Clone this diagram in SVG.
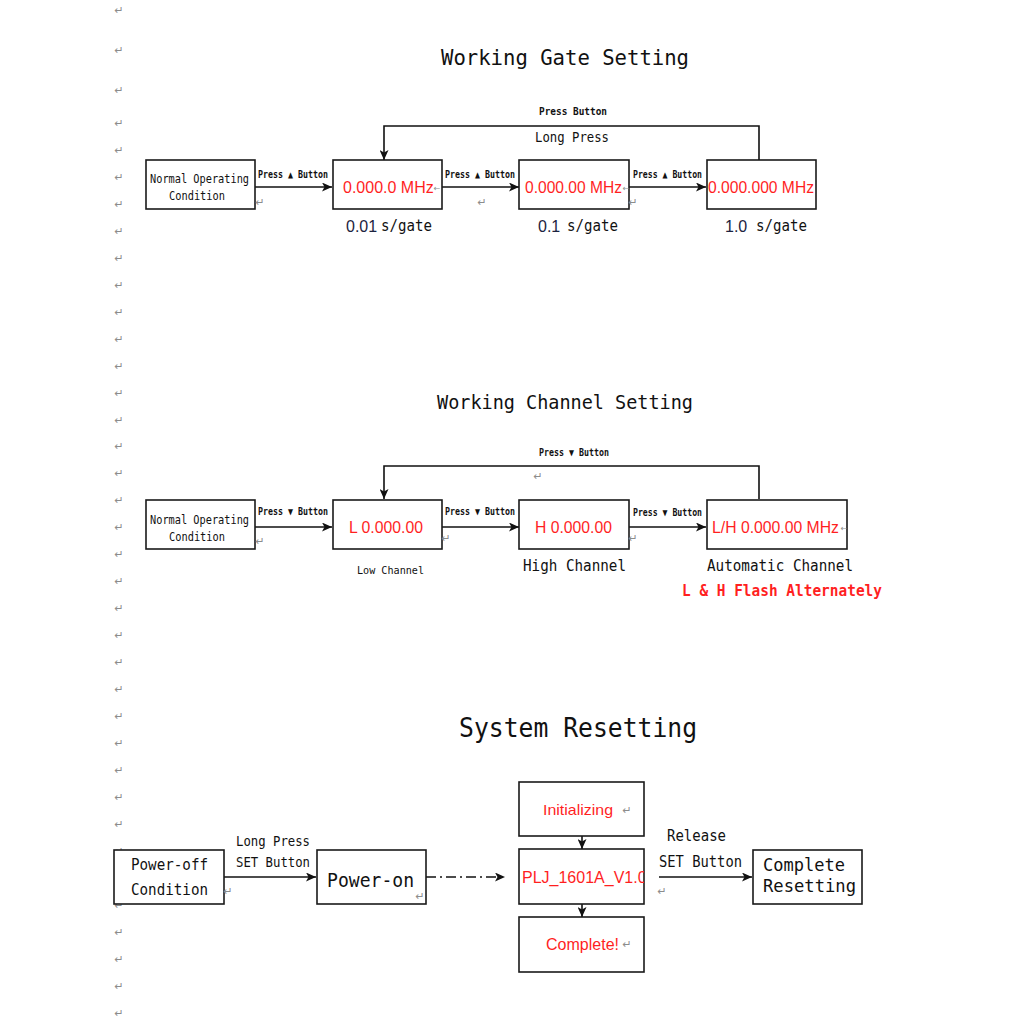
<svg xmlns="http://www.w3.org/2000/svg" width="1024" height="1024" viewBox="0 0 1024 1024">
<style>
.bg{fill:#fff}
.box{fill:#fff;stroke:#1a1a1a;stroke-width:1.6}
.conn{stroke:#111;stroke-width:1.6;fill:none}
.mono{font-family:"DejaVu Sans Mono","Liberation Mono",monospace;fill:#111}
.title{font-family:"DejaVu Sans Mono","Liberation Mono",monospace;fill:#111;text-anchor:middle}
.lbl{font-family:"DejaVu Sans Mono","Liberation Mono",monospace;fill:#111;font-size:10.5px;font-weight:bold}
.red{font-family:"Liberation Sans",Arial,sans-serif;fill:#ff1f1f;font-size:16px}
.num{font-family:"Liberation Sans",Arial,sans-serif;fill:#1c2340;font-size:16px}
.ret{font-family:"DejaVu Sans",sans-serif;fill:#8c8c8c;font-size:11px;text-anchor:middle}
</style>
<defs>
<marker id="ah" markerUnits="userSpaceOnUse" markerWidth="11" markerHeight="9" refX="10" refY="4.5" orient="auto">
<path d="M0,0 L10,4.5 L0,9 L2.5,4.5 Z" fill="#111"/>
</marker>
<clipPath id="clipPLJ"><rect x="519" y="849" width="125" height="55"/></clipPath>
</defs>
<rect class="bg" x="0" y="0" width="1024" height="1024"/>

<g id="margin-marks">
<text class="ret" x="119" y="14">↵</text>
<text class="ret" x="119" y="54">↵</text>
<text class="ret" x="119" y="94">↵</text>
<text class="ret" x="119" y="127">↵</text>
<text class="ret" x="119" y="154">↵</text>
<text class="ret" x="119" y="181">↵</text>
<text class="ret" x="119" y="208">↵</text>
<text class="ret" x="119" y="235">↵</text>
<text class="ret" x="119" y="262">↵</text>
<text class="ret" x="119" y="289">↵</text>
<text class="ret" x="119" y="316">↵</text>
<text class="ret" x="119" y="343">↵</text>
<text class="ret" x="119" y="370">↵</text>
<text class="ret" x="119" y="397">↵</text>
<text class="ret" x="119" y="424">↵</text>
<text class="ret" x="119" y="450">↵</text>
<text class="ret" x="119" y="477">↵</text>
<text class="ret" x="119" y="504">↵</text>
<text class="ret" x="119" y="531">↵</text>
<text class="ret" x="119" y="558">↵</text>
<text class="ret" x="119" y="585">↵</text>
<text class="ret" x="119" y="612">↵</text>
<text class="ret" x="119" y="639">↵</text>
<text class="ret" x="119" y="666">↵</text>
<text class="ret" x="119" y="693">↵</text>
<text class="ret" x="119" y="720">↵</text>
<text class="ret" x="119" y="747">↵</text>
<text class="ret" x="119" y="774">↵</text>
<text class="ret" x="119" y="801">↵</text>
<text class="ret" x="119" y="828">↵</text>
<text class="ret" x="119" y="855">↵</text>
<text class="ret" x="119" y="882">↵</text>
<text class="ret" x="119" y="909">↵</text>
<text class="ret" x="119" y="936">↵</text>
<text class="ret" x="119" y="963">↵</text>
<text class="ret" x="119" y="990">↵</text>
<text class="ret" x="119" y="1017">↵</text>
</g>

<g id="titles">
<text class="title" x="565" y="65" font-size="22" textLength="248" lengthAdjust="spacingAndGlyphs">Working Gate Setting</text>
<text class="title" x="565" y="409" font-size="20" textLength="256" lengthAdjust="spacingAndGlyphs">Working Channel Setting</text>
<text class="title" x="578" y="737" font-size="26" textLength="238" lengthAdjust="spacingAndGlyphs">System Resetting</text>
</g>

<g id="connectors">
<line class="conn" x1="255" y1="187" x2="332" y2="187" marker-end="url(#ah)"/>
<line class="conn" x1="442" y1="187" x2="519" y2="187" marker-end="url(#ah)"/>
<line class="conn" x1="629" y1="187" x2="706" y2="187" marker-end="url(#ah)"/>
<polyline class="conn" points="759,160 759,126 384,126 384,160" marker-end="url(#ah)"/>
<line class="conn" x1="255" y1="527" x2="332" y2="527" marker-end="url(#ah)"/>
<line class="conn" x1="442" y1="527" x2="519" y2="527" marker-end="url(#ah)"/>
<line class="conn" x1="629" y1="527" x2="706" y2="527" marker-end="url(#ah)"/>
<polyline class="conn" points="759,499 759,466 384,466 384,499" marker-end="url(#ah)"/>
<line class="conn" x1="224" y1="877" x2="316" y2="877" marker-end="url(#ah)"/>
<line class="conn" x1="426" y1="877" x2="505" y2="877" stroke-dasharray="10,4,2,4" marker-end="url(#ah)"/>
<line class="conn" x1="582" y1="836" x2="582" y2="849" marker-end="url(#ah)"/>
<line class="conn" x1="582" y1="904" x2="582" y2="917" marker-end="url(#ah)"/>
<line class="conn" x1="659" y1="877" x2="752" y2="877" marker-end="url(#ah)"/>
</g>

<g id="connector-labels">
<text class="lbl" x="258" y="178" textLength="70" lengthAdjust="spacingAndGlyphs">Press ▲ Button</text>
<text class="lbl" x="445" y="178" textLength="70" lengthAdjust="spacingAndGlyphs">Press ▲ Button</text>
<text class="lbl" x="633" y="178" textLength="69" lengthAdjust="spacingAndGlyphs">Press ▲ Button</text>
<text class="lbl" x="539" y="115" textLength="68" lengthAdjust="spacingAndGlyphs">Press Button</text>
<text class="mono" x="535" y="142" font-size="14" textLength="74" lengthAdjust="spacingAndGlyphs">Long Press</text>
<text class="lbl" x="258" y="515" textLength="70" lengthAdjust="spacingAndGlyphs">Press ▼ Button</text>
<text class="lbl" x="445" y="515" textLength="70" lengthAdjust="spacingAndGlyphs">Press ▼ Button</text>
<text class="lbl" x="633" y="516" textLength="69" lengthAdjust="spacingAndGlyphs">Press ▼ Button</text>
<text class="lbl" x="539" y="456" textLength="70" lengthAdjust="spacingAndGlyphs">Press ▼ Button</text>
<text class="mono" x="236" y="846" font-size="14" textLength="74" lengthAdjust="spacingAndGlyphs">Long Press</text>
<text class="mono" x="236" y="867" font-size="14" textLength="74" lengthAdjust="spacingAndGlyphs">SET Button</text>
<text class="mono" x="667" y="841" font-size="15" textLength="59" lengthAdjust="spacingAndGlyphs">Release</text>
<text class="mono" x="659" y="867" font-size="15" textLength="83" lengthAdjust="spacingAndGlyphs">SET Button</text>
</g>

<g id="g-normal">
<rect class="box" x="146" y="160" width="109" height="49"/>
<text class="mono" x="150" y="183" font-size="12" textLength="99" lengthAdjust="spacingAndGlyphs">Normal Operating</text>
<text class="mono" x="169" y="200" font-size="12" textLength="56" lengthAdjust="spacingAndGlyphs">Condition</text>
</g>
<g id="g-001">
<rect class="box" x="333" y="160" width="109" height="49"/>
<text class="red" x="343" y="193">0.000.0 MHz</text>
<text class="num" x="346" y="232">0.01</text>
<text class="mono" x="381" y="231" font-size="15" textLength="51" lengthAdjust="spacingAndGlyphs">s/gate</text>
</g>
<g id="g-01">
<rect class="box" x="519" y="160" width="110" height="49"/>
<text class="red" x="525" y="193" textLength="97" lengthAdjust="spacingAndGlyphs">0.000.00 MHz</text>
<text class="num" x="538" y="232">0.1</text>
<text class="mono" x="567" y="231" font-size="15" textLength="51" lengthAdjust="spacingAndGlyphs">s/gate</text>
</g>
<g id="g-10">
<rect class="box" x="707" y="160" width="109" height="49"/>
<text class="red" x="708" y="193" textLength="106" lengthAdjust="spacingAndGlyphs">0.000.000 MHz</text>
<text class="num" x="725" y="232">1.0</text>
<text class="mono" x="756" y="231" font-size="15" textLength="51" lengthAdjust="spacingAndGlyphs">s/gate</text>
</g>

<g id="c-normal">
<rect class="box" x="146" y="500" width="109" height="49"/>
<text class="mono" x="150" y="524" font-size="12" textLength="99" lengthAdjust="spacingAndGlyphs">Normal Operating</text>
<text class="mono" x="169" y="541" font-size="12" textLength="56" lengthAdjust="spacingAndGlyphs">Condition</text>
</g>
<g id="c-low">
<rect class="box" x="333" y="500" width="109" height="49"/>
<text class="red" x="349" y="533" textLength="74" lengthAdjust="spacingAndGlyphs">L 0.000.00</text>
<text class="mono" x="357" y="574" font-size="11" textLength="67" lengthAdjust="spacingAndGlyphs">Low Channel</text>
</g>
<g id="c-high">
<rect class="box" x="519" y="500" width="110" height="49"/>
<text class="red" x="535" y="533" textLength="77" lengthAdjust="spacingAndGlyphs">H 0.000.00</text>
<text class="mono" x="523" y="571" font-size="15" textLength="103" lengthAdjust="spacingAndGlyphs">High Channel</text>
</g>
<g id="c-auto">
<rect class="box" x="707" y="500" width="140" height="49"/>
<text class="red" x="712" y="533" textLength="127" lengthAdjust="spacingAndGlyphs">L/H 0.000.00 MHz</text>
<text class="mono" x="707" y="571" font-size="15" textLength="146" lengthAdjust="spacingAndGlyphs">Automatic Channel</text>
<text class="mono" x="682" y="596" font-size="15" font-weight="bold" style="fill:#ff1f1f" textLength="200" lengthAdjust="spacingAndGlyphs">L &amp; H Flash Alternately</text>
</g>

<g id="r-poweroff">
<rect class="box" x="114" y="850" width="110" height="54"/>
<text class="mono" x="131" y="870" font-size="16" textLength="77" lengthAdjust="spacingAndGlyphs">Power-off</text>
<text class="mono" x="131" y="895" font-size="16" textLength="77" lengthAdjust="spacingAndGlyphs">Condition</text>
</g>
<g id="r-poweron">
<rect class="box" x="317" y="850" width="109" height="54"/>
<text class="mono" x="327" y="887" font-size="20" textLength="87" lengthAdjust="spacingAndGlyphs">Power-on</text>
</g>
<g id="r-init">
<rect class="box" x="519" y="782" width="125" height="54"/>
<text class="red" x="543" y="815" textLength="70" lengthAdjust="spacingAndGlyphs" style="font-size:15px">Initializing</text>
</g>
<g id="r-plj">
<rect class="box" x="519" y="849" width="125" height="55"/>
<text class="red" x="522" y="883" clip-path="url(#clipPLJ)">PLJ_1601A_V1.0</text>
</g>
<g id="r-complete">
<rect class="box" x="519" y="917" width="125" height="55"/>
<text class="red" x="546" y="950" textLength="73" lengthAdjust="spacingAndGlyphs">Complete!</text>
</g>
<g id="r-resetting">
<rect class="box" x="753" y="850" width="109" height="54"/>
<text class="mono" x="763" y="871" font-size="17" textLength="82" lengthAdjust="spacingAndGlyphs">Complete</text>
<text class="mono" x="763" y="892" font-size="17" textLength="93" lengthAdjust="spacingAndGlyphs">Resetting</text>
</g>

<g id="inline-marks">
<text class="ret" x="260" y="206">↵</text>
<text class="ret" x="437" y="191" style="font-size:8px">←</text>
<text class="ret" x="482" y="206">↵</text>
<text class="ret" x="626" y="191" style="font-size:8px">←</text>
<text class="ret" x="633" y="206">↵</text>
<text class="ret" x="260" y="545">↵</text>
<text class="ret" x="446" y="542">↵</text>
<text class="ret" x="538" y="480">↵</text>
<text class="ret" x="633" y="542">↵</text>
<text class="ret" x="844" y="531" style="font-size:8px">←</text>
<text class="ret" x="228" y="895">↵</text>
<text class="ret" x="420" y="900">↵</text>
<text class="ret" x="627" y="814">↵</text>
<text class="ret" x="662" y="895">↵</text>
<text class="ret" x="627" y="948">↵</text>
</g>
</svg>
